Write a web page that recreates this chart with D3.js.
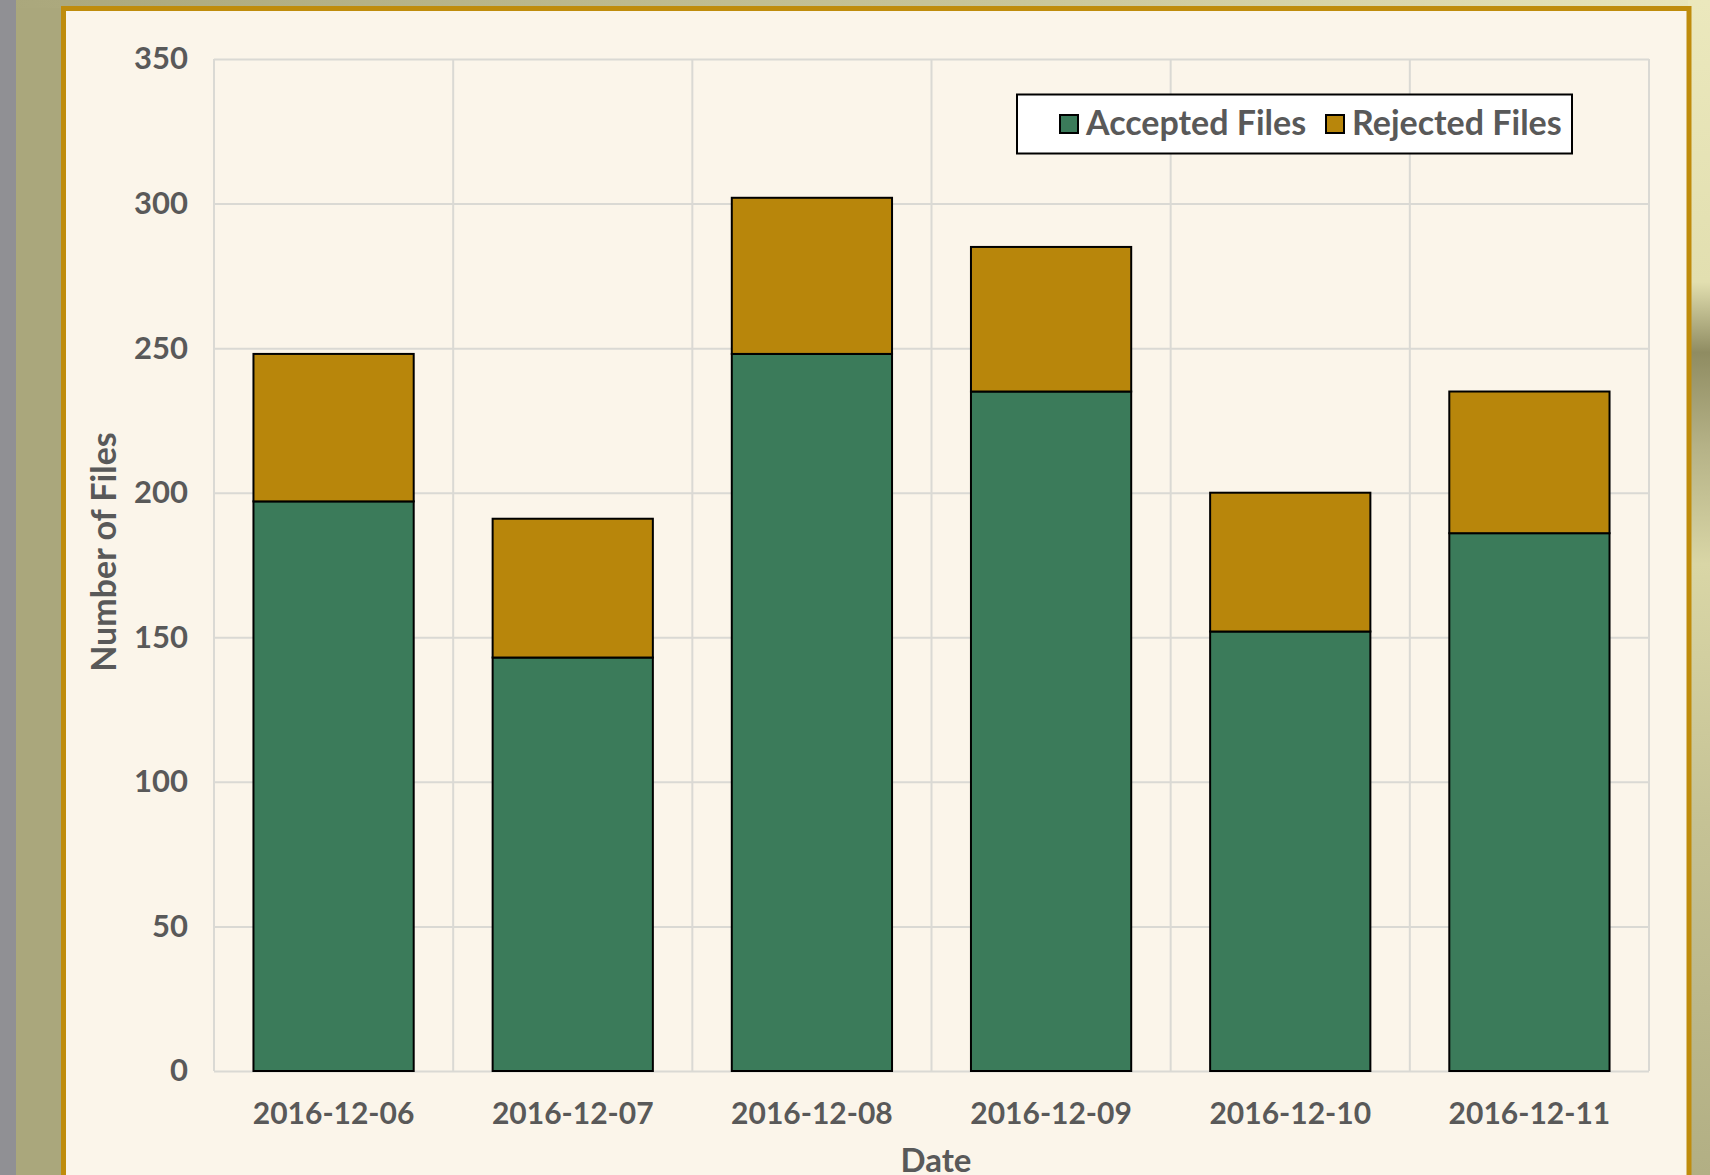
<!DOCTYPE html>
<html>
<head>
<meta charset="utf-8">
<script src="https://cdn.jsdelivr.net/npm/d3@7"></script>
<style>
  html, body { margin: 0; padding: 0; background: #aaa77c; }
  svg { display: block; }
  text { font-family: Lato, "Open Sans", sans-serif; font-weight: 700; fill: #595959; }
</style>
</head>
<body>
<svg id="chart" width="1710" height="1175"></svg>
<script>
const dates = ['2016-12-06', '2016-12-07', '2016-12-08', '2016-12-09', '2016-12-10', '2016-12-11'];
const accepted = [197, 143, 248, 235, 152, 186];
const rejected = [51, 48, 54, 50, 48, 49];
const seriesNames = ['Accepted Files', 'Rejected Files'];
const seriesColors = ['#3b7b5a', '#b8860b'];
const yTicks = [0, 50, 100, 150, 200, 250, 300, 350];

const plot = {
  left: 214,
  right: 1649,
  top: 59,
  bottom: 1071,
};

const svg = d3.select('#chart');

// page background outside the chart panel
const defs = svg.append('defs');
defs.append('linearGradient')
  .attr('id', 'topGrad')
  .call((g) => g.append('stop').attr('offset', '0%').attr('stop-color', '#aaa77c'))
  .call((g) => g.append('stop').attr('offset', '60%').attr('stop-color', '#c9c69a'))
  .call((g) => g.append('stop').attr('offset', '100%').attr('stop-color', '#e9e6bb'));
defs.append('linearGradient')
  .attr('id', 'rightGrad')
  .attr('x1', 0).attr('y1', 0).attr('x2', 0).attr('y2', 1)
  .call((g) => g.append('stop').attr('offset', '0%').attr('stop-color', '#ebe8bd'))
  .call((g) => g.append('stop').attr('offset', '24%').attr('stop-color', '#e2dfb0'))
  .call((g) => g.append('stop').attr('offset', '30%').attr('stop-color', '#8f8c62'))
  .call((g) => g.append('stop').attr('offset', '38%').attr('stop-color', '#b5b287'))
  .call((g) => g.append('stop').attr('offset', '48%').attr('stop-color', '#d9d6a6'))
  .call((g) => g.append('stop').attr('offset', '70%').attr('stop-color', '#c5c295'))
  .call((g) => g.append('stop').attr('offset', '100%').attr('stop-color', '#b2af84'));

svg.append('rect')
  .attr('width', 1710)
  .attr('height', 1175)
  .attr('fill', '#aaa77c');
svg.append('rect')
  .attr('width', 1710)
  .attr('height', 8)
  .attr('fill', 'url(#topGrad)');
svg.append('rect')
  .attr('x', 1688)
  .attr('width', 22)
  .attr('height', 1175)
  .attr('fill', 'url(#rightGrad)');
svg.append('rect')
  .attr('width', 16)
  .attr('height', 1175)
  .attr('fill', '#909094');

// chart panel
svg.append('rect')
  .attr('x', 63.5)
  .attr('y', 8.5)
  .attr('width', 1625.5)
  .attr('height', 1200)
  .attr('fill', '#fbf5ea')
  .attr('stroke', '#bf8c0c')
  .attr('stroke-width', 5);

const x = d3.scaleBand()
  .domain(dates)
  .range([plot.left, plot.right])
  .paddingInner(0.33)
  .paddingOuter(0.165);

const y = d3.scaleLinear()
  .domain([0, 350])
  .range([plot.bottom, plot.top]);

// horizontal gridlines + y tick labels
svg.append('g')
  .attr('class', 'y-axis')
  .attr('transform', `translate(${plot.left},0)`)
  .call(d3.axisLeft(y)
    .tickValues(yTicks)
    .tickSize(-(plot.right - plot.left))
    .tickPadding(26)
    .tickFormat(d3.format('d')))
  .call((g) => g.select('.domain').remove())
  .call((g) => g.selectAll('.tick line')
    .attr('stroke', '#dad9d4')
    .attr('stroke-width', 2))
  .call((g) => g.selectAll('.tick text')
    .attr('font-size', 31)
    .attr('font-family', null)
    .attr('fill', '#595959'));

// vertical gridlines at category boundaries
const step = x.step();
svg.append('g')
  .attr('class', 'v-grid')
  .selectAll('line')
  .data(d3.range(dates.length + 1))
  .join('line')
  .attr('x1', (i) => plot.left + i * step)
  .attr('x2', (i) => plot.left + i * step)
  .attr('y1', plot.top)
  .attr('y2', plot.bottom)
  .attr('stroke', '#dad9d4')
  .attr('stroke-width', 2);

// stacked bars
const rows = dates.map((d, i) => ({ date: d, accepted: accepted[i], rejected: rejected[i] }));
const stacked = d3.stack().keys(['accepted', 'rejected'])(rows);

svg.append('g')
  .attr('class', 'bars')
  .selectAll('g')
  .data(stacked)
  .join('g')
  .attr('fill', (s, i) => seriesColors[i])
  .selectAll('rect')
  .data((s) => s)
  .join('rect')
  .attr('x', (d) => x(d.data.date))
  .attr('width', x.bandwidth())
  .attr('y', (d) => y(d[1]))
  .attr('height', (d) => y(d[0]) - y(d[1]))
  .attr('stroke', '#000')
  .attr('stroke-width', 2);

// x tick labels
svg.append('g')
  .attr('class', 'x-labels')
  .selectAll('text')
  .data(dates)
  .join('text')
  .attr('x', (d) => x(d) + x.bandwidth() / 2)
  .attr('y', 1124)
  .attr('text-anchor', 'middle')
  .attr('font-size', 30)
  .text((d) => d);

// axis titles
svg.append('text')
  .attr('x', 936)
  .attr('y', 1172)
  .attr('text-anchor', 'middle')
  .attr('font-size', 33)
  .text('Date');

svg.append('text')
  .attr('transform', 'translate(116,552) rotate(-90)')
  .attr('text-anchor', 'middle')
  .attr('font-size', 34)
  .text('Number of Files');

// legend
const legend = svg.append('g').attr('class', 'legend');
legend.append('rect')
  .attr('x', 1017)
  .attr('y', 94.5)
  .attr('width', 555)
  .attr('height', 59)
  .attr('fill', '#fff')
  .attr('stroke', '#000')
  .attr('stroke-width', 2);

const legendX = [1059, 1325];
legend.selectAll('g')
  .data(seriesNames)
  .join('g')
  .attr('transform', (d, i) => `translate(${legendX[i]},0)`)
  .call((g) => g.append('rect')
    .attr('x', 1)
    .attr('y', 115)
    .attr('width', 18)
    .attr('height', 18)
    .attr('fill', (d, i) => seriesColors[i])
    .attr('stroke', '#000')
    .attr('stroke-width', 2))
  .call((g) => g.append('text')
    .attr('x', 27)
    .attr('y', 135)
    .attr('font-size', 34)
    .text((d) => d));
</script>
</body>
</html>
